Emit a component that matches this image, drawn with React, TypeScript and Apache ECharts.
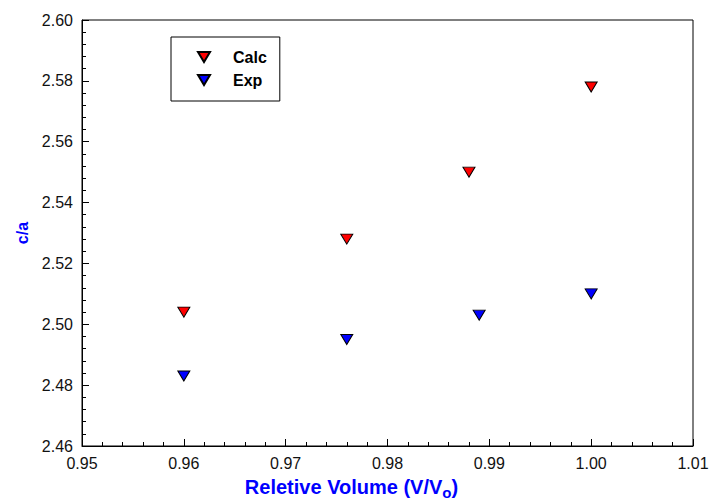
import React, { useEffect, useRef } from "react";
import * as echarts from "echarts";

const calcX = [0.96, 0.976, 0.988, 1.0];
const calcY = [2.504, 2.528, 2.55, 2.578];
const expX = [0.96, 0.976, 0.989, 1.0];
const expY = [2.483, 2.495, 2.503, 2.51];

const xTicks = { min: 0.95, max: 1.01, interval: 0.01, minor: 0.002 };
const yTicks = { min: 2.46, max: 2.6, interval: 0.02, minor: 0.004 };

const FONT = "Arial, Liberation Sans, sans-serif";

export default function App() {
  const ref = useRef<HTMLDivElement>(null);
  useEffect(() => {
    const chart = echarts.init(ref.current!, null, { renderer: "svg" });
    const marker = {
      symbol: "triangle",
      symbolSize: [12, 10],
      symbolRotate: 180,
    };
    const tickLabel = {
      fontFamily: FONT,
      fontSize: 16,
      color: "#111",
      margin: 9,
      formatter: (v: number) => v.toFixed(2),
    };
    const minorAxis = (min: number, max: number, interval: number, extra: any) => ({
      type: "value",
      min,
      max,
      interval,
      axisLine: { show: false },
      axisTick: { show: true, inside: true, length: 4, lineStyle: { color: "#000" } },
      axisLabel: { show: false },
      splitLine: { show: false },
      ...extra,
    });
    chart.setOption({
      animation: false,
      backgroundColor: "#ffffff",
      grid: {
        left: 82,
        right: 18,
        top: 20,
        bottom: 57,
        containLabel: false,
        outerBoundsMode: "none",
        show: true,
        borderColor: "#000",
        borderWidth: 1,
      },
      legend: {
        orient: "vertical",
        left: 171,
        top: 37,
        borderColor: "#000",
        borderWidth: 1,
        padding: [12, 13, 13, 26],
        itemGap: 7,
        itemWidth: 12,
        itemHeight: 10,
        icon: "path://M0,0L12,0L6,10Z",
        textStyle: {
          fontFamily: FONT,
          fontWeight: "bold",
          fontSize: 16,
          color: "#000",
          padding: [0, 0, 0, 18],
          lineHeight: 16,
        },
        data: ["Calc", "Exp"],
      },
      xAxis: [
        {
          type: "value",
          min: xTicks.min,
          max: xTicks.max,
          interval: xTicks.interval,
          name: "{a|Reletive Volume (V/V}{s|o}{a|)}",
          nameLocation: "middle",
          nameGap: 27,
          nameTextStyle: {
            padding: [0, 72, 0, 0],
            rich: {
              a: {
                fontFamily: FONT,
                fontWeight: "bold",
                fontSize: 20,
                color: "#0000ff",
              },
              s: {
                fontFamily: FONT,
                fontWeight: "bold",
                fontSize: 15,
                color: "#0000ff",
                padding: [12, 0, 0, 0],
              },
            },
          },
          axisLine: { show: true, lineStyle: { color: "#000", width: 1 } },
          axisTick: { show: true, inside: true, length: 7, lineStyle: { color: "#000" } },
          splitLine: { show: false },
          axisLabel: tickLabel,
        },
        minorAxis(xTicks.min, xTicks.max, xTicks.minor, { position: "bottom" }),
      ],
      yAxis: [
        {
          type: "value",
          min: yTicks.min,
          max: yTicks.max,
          interval: yTicks.interval,
          name: "c/a",
          nameLocation: "middle",
          nameGap: 51,
          nameTextStyle: {
            fontFamily: FONT,
            fontWeight: "bold",
            fontSize: 16,
            color: "#0000ff",
          },
          axisLine: { show: true, lineStyle: { color: "#000", width: 1 } },
          axisTick: { show: true, inside: true, length: 7, lineStyle: { color: "#000" } },
          splitLine: { show: false },
          axisLabel: tickLabel,
        },
        minorAxis(yTicks.min, yTicks.max, yTicks.minor, { position: "left" }),
      ],
      series: [
        {
          name: "Calc",
          type: "scatter",
          ...marker,
          itemStyle: { color: "#ff0000", borderColor: "#000", borderWidth: 1, opacity: 1 },
          data: calcX.map((x, i) => [x, calcY[i]]),
        },
        {
          name: "Exp",
          type: "scatter",
          ...marker,
          itemStyle: { color: "#0000ff", borderColor: "#000", borderWidth: 1, opacity: 1 },
          data: expX.map((x, i) => [x, expY[i]]),
        },
      ],
    });
    return () => chart.dispose();
  }, []);
  return <div ref={ref} style={{ width: 711, height: 503, position: "absolute", left: 0, top: 0 }} />;
}
